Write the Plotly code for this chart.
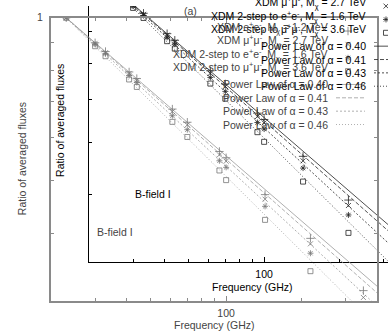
#!/usr/bin/env python3
"""
Ratio of averaged fluxes vs frequency, two stacked copies of the same
gnuplot panel (a faded gray one and a black one shifted up-right).
Writes out.html.
"""

import math

import plotly.graph_objects as go

W, H = 388, 332
FONT = "Liberation Sans, Arial, sans-serif"

# ---- data ------------------------------------------------------------------
FREQ_GHZ = [23, 30, 33, 41, 44, 61, 70, 94, 100, 143, 217, 353]

XDM_EE_12 = [1.0, 0.899, 0.866, 0.794, 0.772, 0.678, 0.641, 0.566, 0.551, 0.471, 0.391, 0.313]
XDM_MM_27 = [1.0, 0.897, 0.862, 0.789, 0.766, 0.671, 0.634, 0.558, 0.543, 0.462, 0.382, 0.304]
XDM_2EE_16 = [1.0, 0.893, 0.858, 0.782, 0.759, 0.659, 0.621, 0.544, 0.529, 0.448, 0.367, 0.289]
XDM_2MM_36 = [1.0, 0.886, 0.849, 0.769, 0.745, 0.642, 0.602, 0.522, 0.501, 0.423, 0.340, 0.262]

PL_FREQ = [23, 400]
PL_040 = [1.0, 0.319]
PL_041 = [1.0, 0.310]
PL_043 = [1.0, 0.293]
PL_046 = [1.0, 0.269]

X_RANGE = [20, 400]
Y_RANGE = [0.3, 1.0]
X_MINOR = [20, 30, 40, 50, 60, 70, 80, 90, 200, 300, 400]
Y_MINOR = [0.3, 0.4, 0.5, 0.6, 0.7, 0.8, 0.9]

SERIES = [
    ("XDM e<sup>+</sup>e<sup>-</sup>, M<sub>χ</sub> = 1.2 TeV", XDM_EE_12, "cross-thin-open", 6),
    ("XDM μ<sup>+</sup>μ<sup>-</sup>, M<sub>χ</sub> = 2.7 TeV", XDM_MM_27, "x-thin-open", 5),
    ("XDM 2-step to e<sup>+</sup>e<sup>-</sup>, M<sub>χ</sub> = 1.6 TeV", XDM_2EE_16, "asterisk-open", 5),
    ("XDM 2-step to μ<sup>+</sup>μ<sup>-</sup>, M<sub>χ</sub> = 3.6 TeV", XDM_2MM_36, "square-open", 5),
]
POWER_LAWS = [
    ("Power Law of α = 0.40", PL_040, "solid"),
    ("Power Law of α = 0.41", PL_041, "4px,2px"),
    ("Power Law of α = 0.43", PL_043, "2px,2px"),
    ("Power Law of α = 0.46", PL_046, "1px,2px"),
]

# panel frame in pixels (gray copy); the black copy is shifted by OFFSET
FRAME = dict(left=51, top=12, right=377, bottom=300)
OFFSET = (38, -39)

GRAY = dict(frame="#8a8a8a", fw=2, text="#444444", line="#9a9a9a", mark="#777777", mirror=True)
BLACK = dict(frame="#000000", fw=1.2, text="#000000", line="#222222", mark="#222222", mirror=False)


def px(x, y):
    return x / W, 1 - y / H


def add_panel(fig, n, dx, dy, st):
    left, right = FRAME["left"] + dx, FRAME["right"] + dx
    top, bottom = FRAME["top"] + dy, FRAME["bottom"] + dy
    lx0, lx1 = math.log10(X_RANGE[0]), math.log10(X_RANGE[1])
    ly0, ly1 = math.log10(Y_RANGE[0]), math.log10(Y_RANGE[1])
    ppx = (right - left) / (lx1 - lx0)
    ppy = (bottom - top) / (ly1 - ly0)
    vl, vr = max(left, 0), min(right, W)
    vt, vb = max(top, 0), min(bottom, H)
    xr = [lx0 + (vl - left) / ppx, lx0 + (vr - left) / ppx]
    yr = [ly0 + (bottom - vb) / ppy, ly0 + (bottom - vt) / ppy]

    xs = "" if n == 1 else str(n)
    tick_font = dict(family=FONT, size=10.5, color=st["text"])
    common = dict(
        type="log", showgrid=False, zeroline=False, showline=True,
        linecolor=st["frame"], linewidth=st["fw"],
        mirror="ticks" if st["mirror"] else False,
        ticks="inside", ticklen=5, tickwidth=1, tickcolor=st["frame"],
        tickfont=tick_font, tickmode="array",
    )
    fig.layout[f"xaxis{xs}"] = dict(
        common, domain=[vl / W, vr / W], range=xr, anchor=f"y{xs}",
        tickvals=[100], ticktext=["100"], ticklabelstandoff=2,
        minor=dict(tickmode="array", tickvals=X_MINOR, ticks="inside",
                   ticklen=3, tickcolor=st["frame"]),
    )
    fig.layout[f"yaxis{xs}"] = dict(
        common, domain=[1 - vb / H, 1 - vt / H], range=yr, anchor=f"x{xs}",
        tickvals=[1], ticktext=["1"], ticklabelstandoff=4,
        minor=dict(tickmode="array", tickvals=Y_MINOR, ticks="inside",
                   ticklen=3, tickcolor=st["frame"]),
    )

    for (_, ys, dash) in POWER_LAWS:
        fig.add_trace(go.Scatter(
            x=PL_FREQ, y=ys, mode="lines", xaxis=f"x{xs}", yaxis=f"y{xs}",
            line=dict(color=st["line"], width=0.8, dash=dash),
            showlegend=False, hoverinfo="skip",
        ))
    for (_, ys, sym, size) in SERIES:
        fig.add_trace(go.Scatter(
            x=FREQ_GHZ, y=ys, mode="markers", xaxis=f"x{xs}", yaxis=f"y{xs}",
            marker=dict(symbol=sym, size=size, color=st["mark"],
                        line=dict(color=st["mark"], width=0.8)),
            showlegend=False, hoverinfo="skip",
        ))

    # key (text right-aligned, sample to its right), drawn on the pixel overlay
    row0, step = 25.5 + dy, 13.6
    text_r, s0, s1, sym_x = 330 + dx, 336 + dx, 365 + dx, 348 + dx
    key_font = dict(family=FONT, size=10.5, color=st["text"])
    for i, (label, _, sym, size) in enumerate(SERIES):
        y = row0 + i * step
        fig.add_trace(go.Scatter(
            x=[sym_x], y=[y], mode="markers", xaxis="x9", yaxis="y9",
            marker=dict(symbol=sym, size=size, color=st["mark"],
                        line=dict(color=st["mark"], width=0.8)),
            cliponaxis=False, showlegend=False, hoverinfo="skip",
        ))
        # sub/superscripts make the box taller, lift it to keep the baseline
        ax, ay = px(text_r, y - 3)
        fig.add_annotation(x=ax, y=ay, xref="paper", yref="paper", text=label,
                           showarrow=False, xanchor="right", yanchor="middle",
                           font=key_font)
    for j, (label, _, dash) in enumerate(POWER_LAWS):
        y = row0 + (len(SERIES) + j) * step
        fig.add_trace(go.Scatter(
            x=[s0, s1], y=[y, y], mode="lines", xaxis="x9", yaxis="y9",
            line=dict(color=st["line"], width=0.8, dash=dash),
            cliponaxis=False, showlegend=False, hoverinfo="skip",
        ))
        ax, ay = px(text_r, y)
        fig.add_annotation(x=ax, y=ay, xref="paper", yref="paper", text=label,
                           showarrow=False, xanchor="right", yanchor="middle",
                           font=key_font)

    lab = dict(family=FONT, size=10.5, color=st["text"])
    cx = (left + right) / 2
    for text, x, y, angle, xa in [
        ("Frequency (GHz)", cx, 325 + dy, 0, "center"),
        ("Ratio of averaged fluxes", 22 + dx, (top + bottom) / 2, -90, "center"),
        ("B-field I", 95 + dx, 230 + dy, 0, "left"),
        ("(a)", 190 + dx, 5 + dy, 0, "center"),
    ]:
        ax, ay = px(x, y)
        fig.add_annotation(x=ax, y=ay, xref="paper", yref="paper", text=text,
                           showarrow=False, textangle=angle, xanchor=xa,
                           yanchor="middle", font=lab)


def build_figure():
    fig = go.Figure()
    # black copy first, the faded gray copy drawn over it
    add_panel(fig, 1, OFFSET[0], OFFSET[1], BLACK)
    add_panel(fig, 2, 0, 0, GRAY)
    fig.update_layout(
        xaxis9=dict(domain=[0, 1], range=[0, W], visible=False, anchor="y9"),
        yaxis9=dict(domain=[0, 1], range=[H, 0], visible=False, anchor="x9"),
        width=W, height=H, margin=dict(l=0, r=0, t=0, b=0),
        paper_bgcolor="white", plot_bgcolor="rgba(0,0,0,0)",
        showlegend=False, font=dict(family=FONT, size=10.5),
    )
    return fig


if __name__ == "__main__":
    fig = build_figure()
    # drop the page's default body margin so the 388x332 figure fills the window
    fig.write_html("out.html", config={"displayModeBar": False},
                   post_script="document.body.style.margin='0';")
